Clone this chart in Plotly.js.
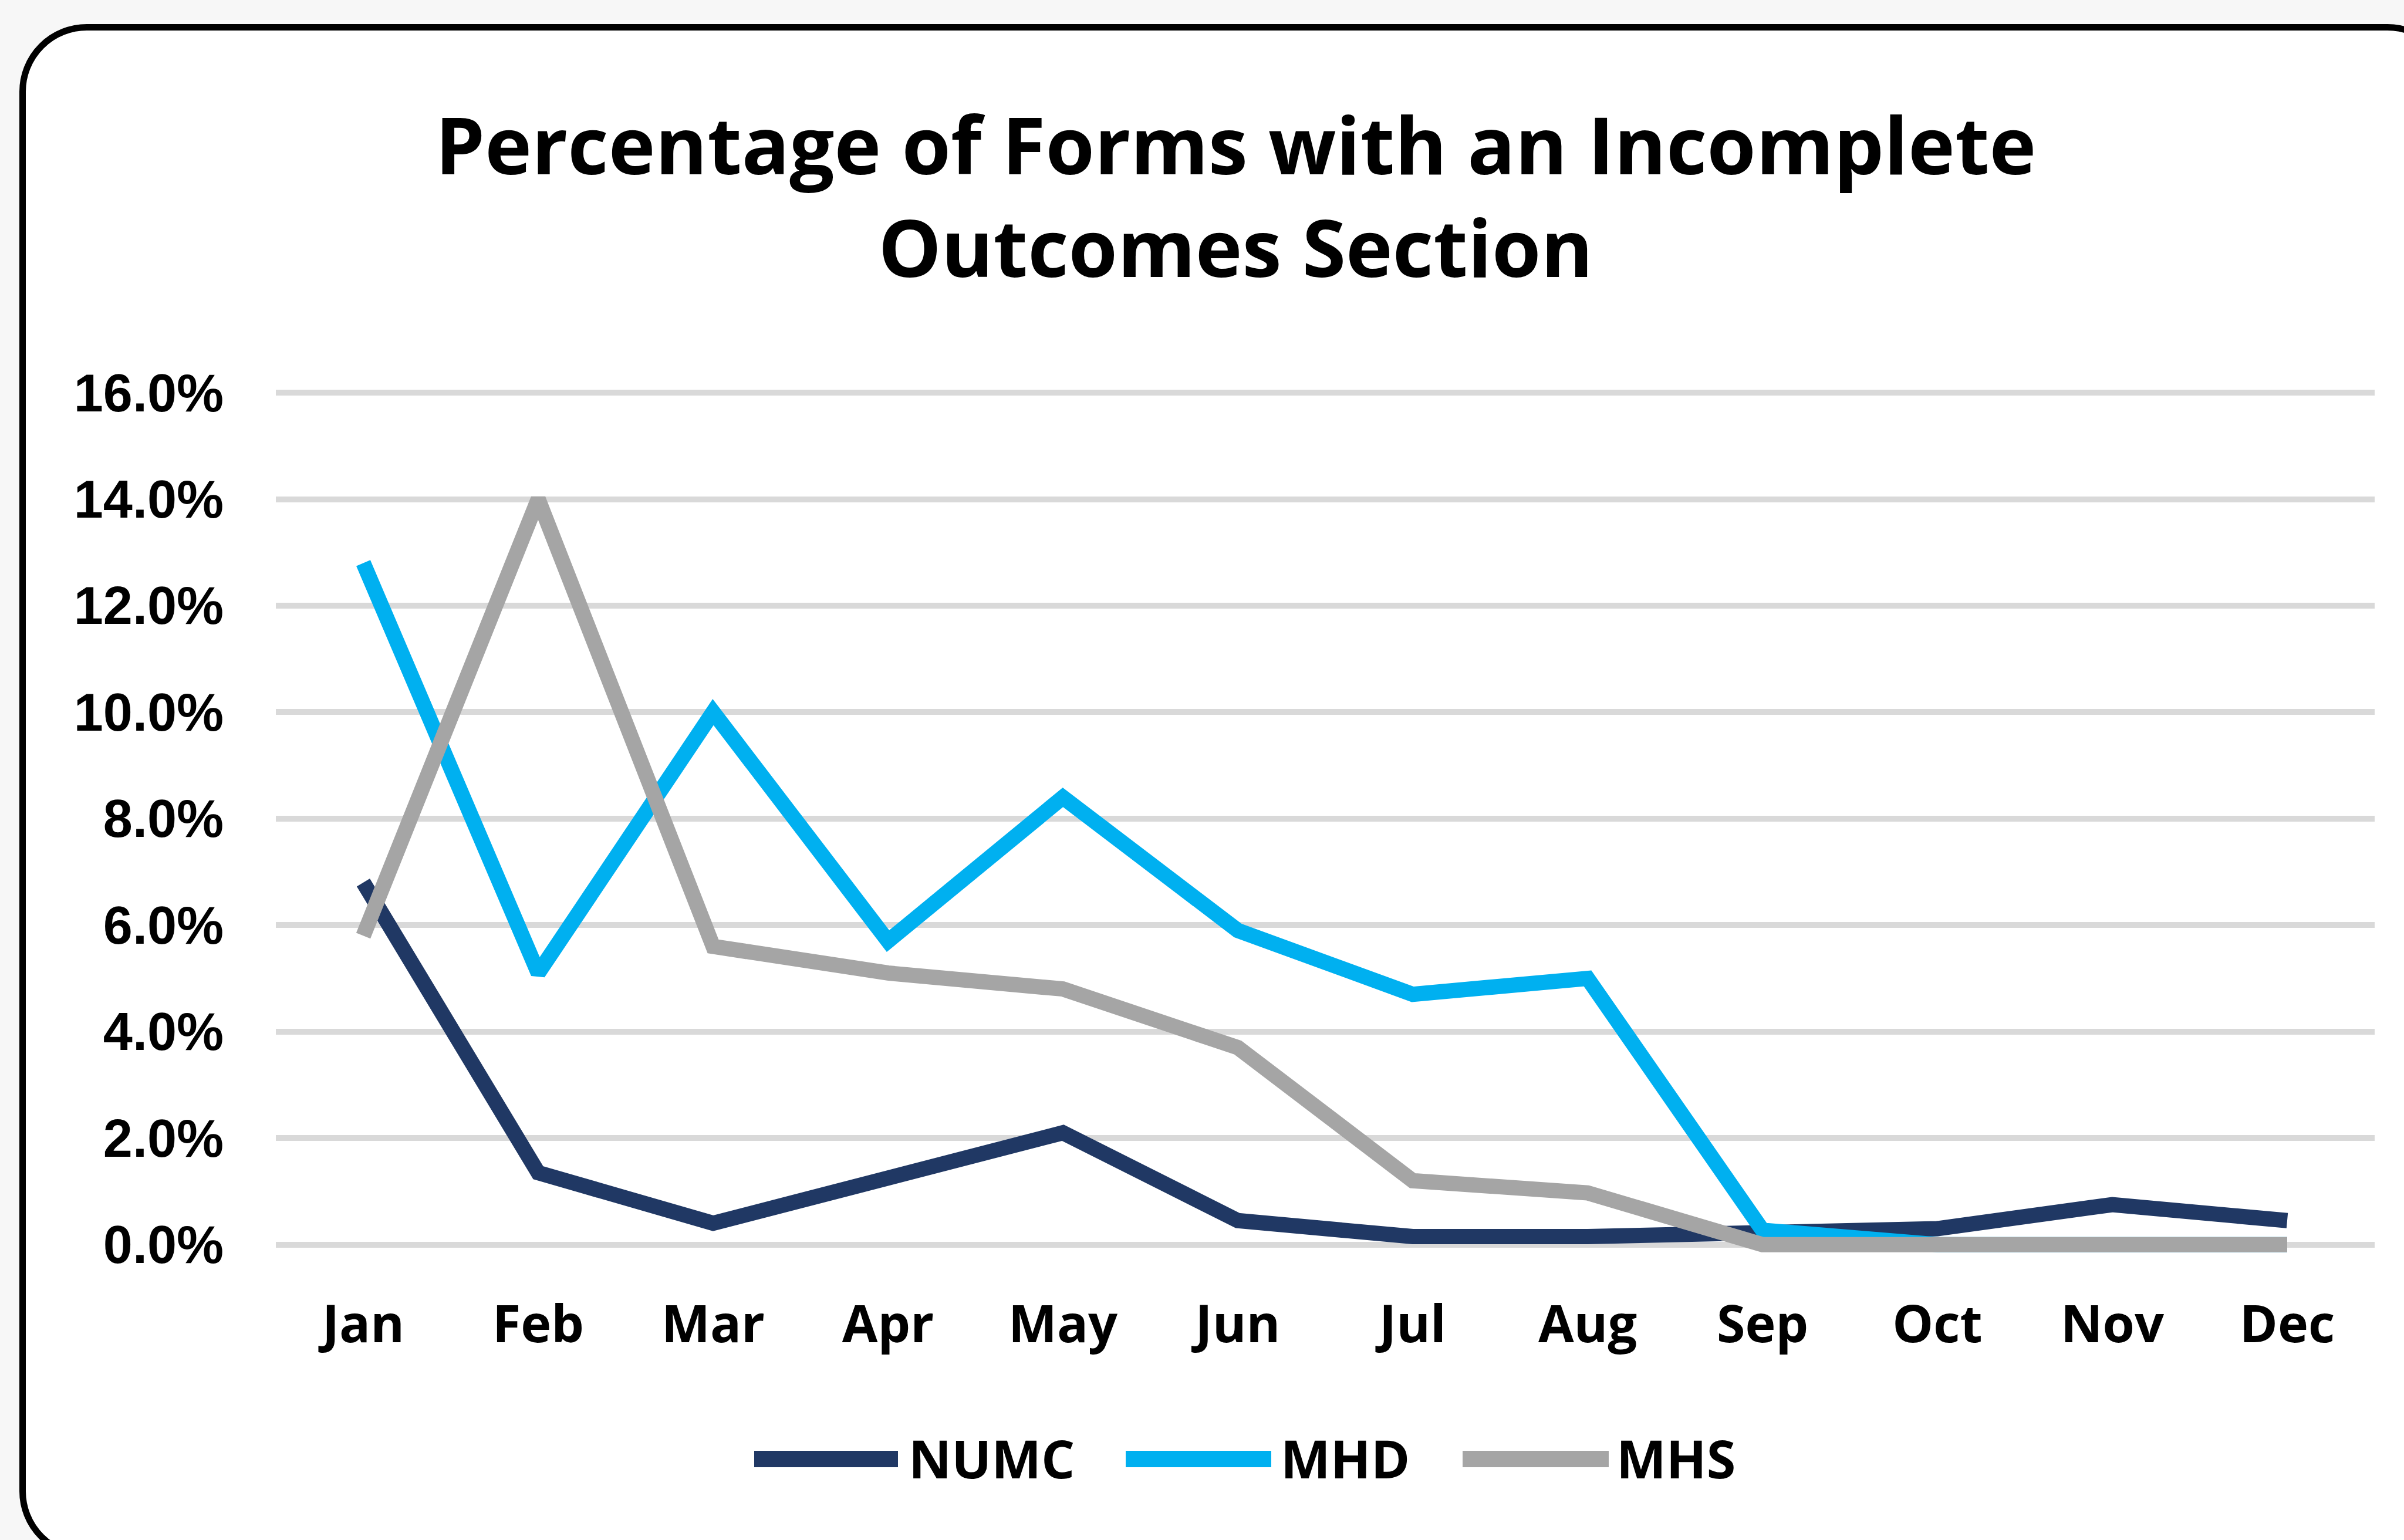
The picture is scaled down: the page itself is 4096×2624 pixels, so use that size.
<!DOCTYPE html>
<html>
<head>
<meta charset="utf-8">
<script src="https://cdn.plot.ly/plotly-3.0.1.min.js"></script>
<style>
  html, body { margin: 0; padding: 0; width: 4096px; height: 2624px; overflow: hidden; background: #f7f7f7; }
  #frame {
    position: absolute; left: 33px; top: 41px; width: 4150px; height: 2615px;
    box-sizing: border-box; border: 11px solid #000; border-radius: 115px; background: #fff;
  }
  #chart { position: absolute; left: 0; top: 0; width: 4096px; height: 2624px; }
</style>
</head>
<body>
<div id="frame"></div>
<div id="chart"></div>
<script>
// ---- data ----
const months = ['Jan', 'Feb', 'Mar', 'Apr', 'May', 'Jun', 'Jul', 'Aug', 'Sep', 'Oct', 'Nov', 'Dec'];
const seriesNames = ['NUMC', 'MHD', 'MHS'];
const numc = [0.068, 0.0135, 0.004, 0.0125, 0.021, 0.0045, 0.0015, 0.0015, 0.002, 0.003, 0.0075, 0.0045];
const mhd  = [0.128, 0.051, 0.100, 0.057, 0.084, 0.059, 0.047, 0.050, 0.0027, 0, 0, 0];
const mhs  = [0.058, 0.140, 0.056, 0.051, 0.048, 0.037, 0.012, 0.0097, 0, 0, 0, 0];
const titleText = 'Percentage of Forms with an Incomplete<br>Outcomes Section';

// ---- styles ----
const colors = ['#203864', '#00b0f0', '#a5a5a5'];
const lineW = 26;
const W = 4096, H = 2624;
const M = { l: 470, r: 50, t: 660, b: 458 };
const plotW = W - M.l - M.r, plotH = H - M.t - M.b;

const values = [numc, mhd, mhs];
const traces = values.map((v, i) => ({
  type: 'scatter', mode: 'lines', x: months, y: v, name: seriesNames[i],
  line: { color: colors[i], width: lineW, shape: 'linear' },
  showlegend: false, hoverinfo: 'skip'
}));

// custom legend (long line swatches like the original)
const legendY = 2486;               // px from top
const legendItems = [
  { x0: 1285, x1: 1530, tx: 1546 },
  { x0: 1918, x1: 2166, tx: 2180 },
  { x0: 2492, x1: 2741, tx: 2752 }
];
const px2x = px => (px - M.l) / plotW;
const px2y = py => (H - M.b - py) / plotH;
const shapes = legendItems.map((it, i) => ({
  type: 'line', xref: 'paper', yref: 'paper',
  x0: px2x(it.x0), x1: px2x(it.x1), y0: px2y(legendY), y1: px2y(legendY),
  line: { color: colors[i], width: 28 }
}));
const annotations = legendItems.map((it, i) => ({
  xref: 'paper', yref: 'paper', x: px2x(it.tx), y: px2y(legendY - 2),
  xanchor: 'left', yanchor: 'middle', showarrow: false, text: seriesNames[i],
  font: { family: 'Open Sans', size: 90, color: '#000', weight: 700 }
}));

const layout = {
  width: W, height: H,
  margin: M,
  paper_bgcolor: 'rgba(0,0,0,0)', plot_bgcolor: 'rgba(0,0,0,0)',
  title: {
    text: titleText, x: 0.514, xref: 'container', xanchor: 'center',
    y: 0.887, yref: 'container', yanchor: 'top',
    font: { family: 'Open Sans', size: 135, color: '#000', weight: 700 }
  },
  xaxis: {
    type: 'category', range: [-0.5, 11.5], showgrid: false, zeroline: false, showline: false,
    ticks: '', ticklabelstandoff: 32,
    tickfont: { family: 'Open Sans', size: 88, color: '#000', weight: 700 }
  },
  yaxis: {
    range: [-0.005, 0.161], tick0: 0, dtick: 0.02, tickformat: '.1%',
    showgrid: true, gridcolor: '#d9d9d9', gridwidth: 10, zeroline: false, showline: false,
    ticks: '', ticklabelstandoff: 88,
    tickfont: { family: 'Liberation Sans', size: 90, color: '#000', weight: 700 }
  },
  shapes: shapes,
  annotations: annotations,
  showlegend: false
};

Plotly.newPlot('chart', traces, layout, { staticPlot: true, displayModeBar: false });
</script>
</body>
</html>
